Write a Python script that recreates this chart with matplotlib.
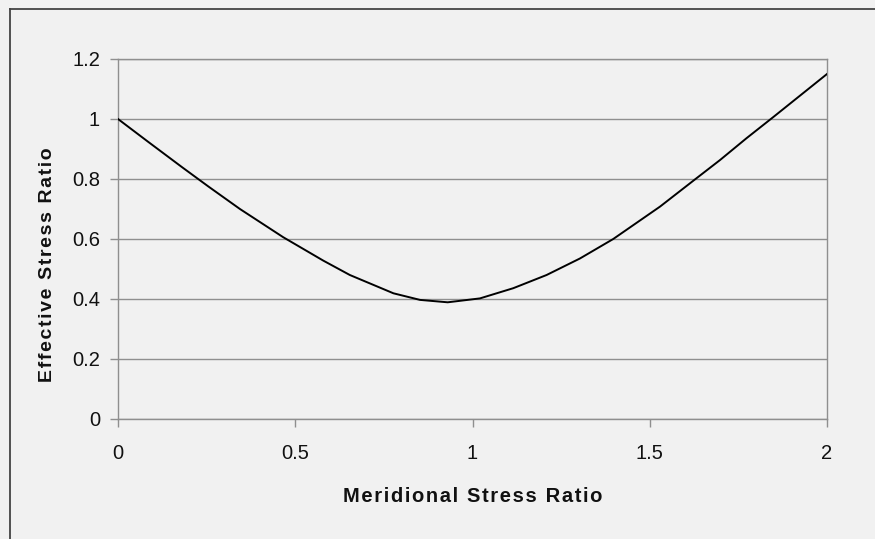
import matplotlib
matplotlib.use("Agg")
import matplotlib.pyplot as plt
from matplotlib.lines import Line2D

meridional = [0.0, 0.085, 0.18, 0.255, 0.344, 0.466, 0.579, 0.654, 0.777, 0.852, 0.93,
              1.021, 1.115, 1.209, 1.303, 1.397, 1.529, 1.628, 1.698, 1.773, 1.848, 2.0]
effective = [1.0, 0.924, 0.84, 0.775, 0.70, 0.606, 0.528, 0.48, 0.419, 0.397, 0.389,
             0.402, 0.436, 0.48, 0.535, 0.60, 0.708, 0.799, 0.863, 0.936, 1.006, 1.15]
xticks = [0, 0.5, 1, 1.5, 2]
xtick_labels = ["0", "0.5", "1", "1.5", "2"]
yticks = [0, 0.2, 0.4, 0.6, 0.8, 1.0, 1.2]
ytick_labels = ["0", "0.2", "0.4", "0.6", "0.8", "1", "1.2"]
xlabel = "Meridional Stress Ratio"
ylabel = "Effective Stress Ratio"

W, H = 875, 539
bg = "#f1f1f1"
fig = plt.figure(figsize=(W / 100, H / 100), dpi=100, facecolor=bg)
ax = fig.add_axes([118 / W, 1 - 419 / H, (827 - 118) / W, (419 - 59) / H])
ax.set_facecolor(bg)

# outer chart frame (top and left edges visible)
fig.add_artist(Line2D([10 / W, 1.0], [1 - 9 / H, 1 - 9 / H], transform=fig.transFigure,
                      color="#444444", lw=1.3))
fig.add_artist(Line2D([10 / W, 10 / W], [1 - 9 / H, 0.0], transform=fig.transFigure,
                      color="#444444", lw=1.3))

grid_c = "#8f8f8f"
ax.plot(meridional, effective, color="black", lw=1.4, zorder=3,
        solid_joinstyle="round")
ax.set_xlim(0, 2)
ax.set_ylim(0, 1.2)
ax.set_xticks(xticks)
ax.set_xticklabels(xtick_labels)
ax.set_yticks(yticks)
ax.set_yticklabels(ytick_labels)
ax.yaxis.grid(True, color=grid_c, lw=1.0)
ax.set_axisbelow(True)
for s in ax.spines.values():
    s.set_color(grid_c)
    s.set_linewidth(1.0)

tick_font = ["Liberation Sans", "DejaVu Sans"]
ax.tick_params(axis="both", direction="out", length=6, width=1.0, color=grid_c,
               labelsize=14.5, labelcolor="#111111")
ax.tick_params(axis="x", pad=12)
ax.tick_params(axis="y", pad=7)
for lab in ax.get_xticklabels() + ax.get_yticklabels():
    lab.set_family(tick_font)


def spaced(s):
    return "\u200a".join(s)


ax.set_xlabel(spaced(xlabel), fontsize=14.5, fontweight="bold", family=tick_font,
              labelpad=17, color="#111111")
ax.set_ylabel(spaced(ylabel), fontsize=14, fontweight="bold", family=tick_font,
              color="#111111")
ax.yaxis.set_label_coords(-0.0875, 0.43)

fig.savefig("out.png", dpi=100, facecolor=bg)
